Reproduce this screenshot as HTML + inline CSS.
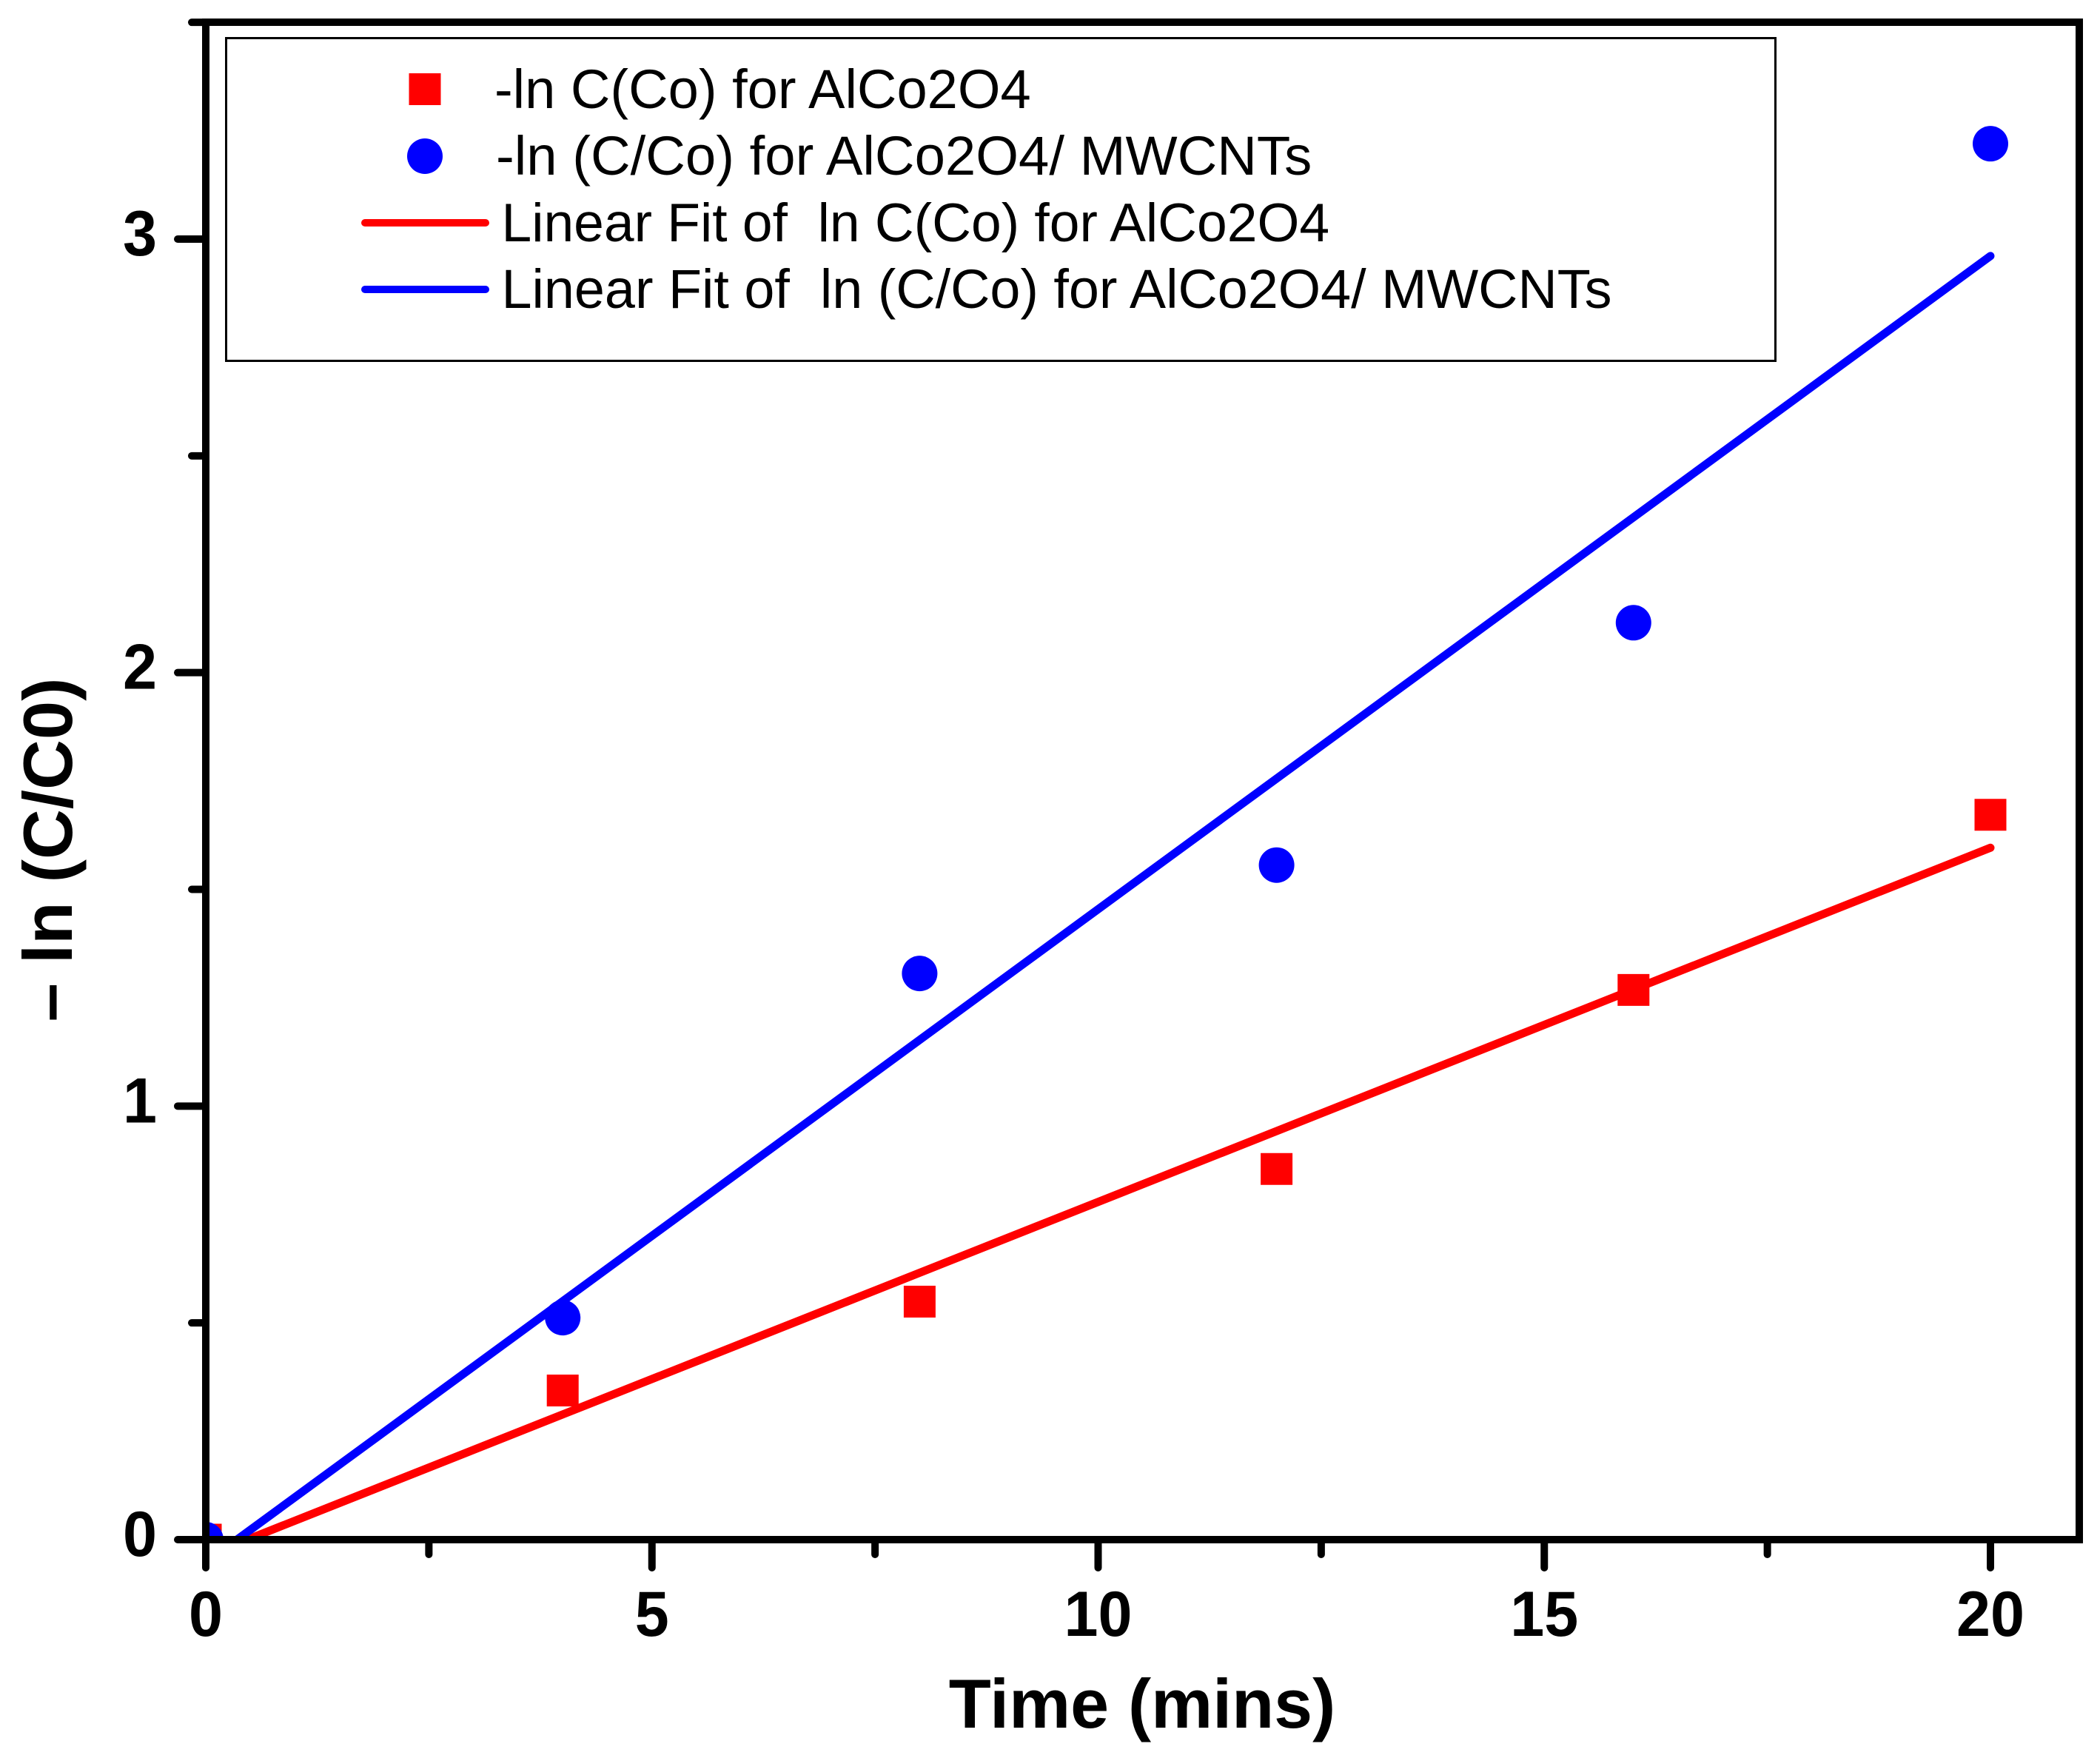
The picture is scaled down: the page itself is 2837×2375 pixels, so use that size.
<!DOCTYPE html>
<html lang="en">
<head>
<meta charset="utf-8">
<title>Kinetic fit chart</title>
<style>
html,body{margin:0;padding:0;background:#fff;width:2837px;height:2375px;overflow:hidden}
svg{display:block}
text{font-family:"Liberation Sans",Arial,sans-serif;fill:#000;white-space:pre}
.tick-label{font-size:86px;font-weight:bold}
.axis-title{font-size:94px;font-weight:bold}
</style>
</head>
<body>
<svg id="chart" xmlns="http://www.w3.org/2000/svg" width="2837" height="2375" viewBox="0 0 2837 2375">
  <defs>
    <clipPath id="plot-clip"><rect x="278" y="30" width="2531" height="2050"/></clipPath>
  </defs>
  <rect x="0" y="0" width="2837" height="2375" fill="#fff"/>
  <g id="series" clip-path="url(#plot-clip)"></g>
  <g id="axes"></g>
  <g>
    <rect x="305.5" y="51.5" width="2093" height="436" fill="none" stroke="#000" stroke-width="3"/>
    <rect x="552.5" y="99" width="43" height="43" fill="#ff0000"/>
    <text x="668" y="146" font-size="74.1">-ln C(Co) for AlCo2O4</text>
    <circle cx="574" cy="211" r="24" fill="#0000ff"/>
    <text x="670" y="236" font-size="74.3">-ln (C/Co) for AlCo2O4/ MWCNTs</text>
    <line x1="493" y1="301" x2="656" y2="301" stroke="#ff0000" stroke-width="10" stroke-linecap="round"/>
    <text x="677.5" y="326" font-size="73.2">Linear Fit of  ln C(Co) for AlCo2O4</text>
    <line x1="493" y1="391" x2="656" y2="391" stroke="#0000ff" stroke-width="10" stroke-linecap="round"/>
    <text x="677.5" y="416" font-size="73.75">Linear Fit of  ln (C/Co) for AlCo2O4/ MWCNTs</text>
  </g>
  <text class="axis-title" x="1543" y="2334" text-anchor="middle" style="font-size:93.4px">Time (mins)</text>
  <text class="axis-title" transform="translate(97 1148) rotate(-90)" text-anchor="middle">– ln (C/C0)</text>
</svg>
<script>
var timeValues = [0, 4, 8, 12, 16, 20];
var redValues = [0, 0.344, 0.549, 0.855, 1.268, 1.672];
var blueValues = [0, 0.512, 1.306, 1.556, 2.115, 3.22];
var redFitX = [0.465, 20];
var redFitY = [0, 1.596];
var blueFitX = [0.35, 20];
var blueFitY = [0, 2.961];
var xMajorTicks = [0, 5, 10, 15, 20];
var xMinorTicks = [2.5, 7.5, 12.5, 17.5];
var yMajorTicks = [0, 1, 2, 3];
var yMinorTicks = [0.5, 1.5, 2.5, 3.5];

var NS = 'http://www.w3.org/2000/svg';
function xScale(v) { return 278 + v * 120.55; }
function yScale(v) { return 2080 - v * 585.67; }
function make(parent, tag, props) {
  var el = document.createElementNS(NS, tag);
  for (var k in props) { el.setAttribute(k, props[k]); }
  parent.appendChild(el);
  return el;
}
var series = document.getElementById('series');
var axes = document.getElementById('axes');

redValues.forEach(function (v, i) {
  var el = make(series, 'rect', {
    x: xScale(timeValues[i]) - 21.5, y: yScale(v) - 21.5,
    width: 43, height: 43, fill: '#ff0000'
  });
  
  
});
blueValues.forEach(function (v, i) {
  var el = make(series, 'circle', {
    cx: xScale(timeValues[i]), cy: yScale(v), r: 24, fill: '#0000ff'
  });
  
  
});
var redFit = make(series, 'line', {
  x1: xScale(redFitX[0]), y1: yScale(redFitY[0]),
  x2: xScale(redFitX[1]), y2: yScale(redFitY[1]),
  stroke: '#ff0000', 'stroke-width': 11, 'stroke-linecap': 'round'
});


var blueFit = make(series, 'line', {
  x1: xScale(blueFitX[0]), y1: yScale(blueFitY[0]),
  x2: xScale(blueFitX[1]), y2: yScale(blueFitY[1]),
  stroke: '#0000ff', 'stroke-width': 11, 'stroke-linecap': 'round'
});



var frame = make(axes, 'rect', {
  x: 278, y: 30, width: 2531, height: 2050,
  fill: 'none', stroke: '#000', 'stroke-width': 10
});



function xTick(v, end) {
  var el = make(axes, 'line', {
    x1: xScale(v), y1: 2080, x2: xScale(v), y2: end,
    stroke: '#000', 'stroke-width': 10, 'stroke-linecap': 'round'
  });
  
  
}
function yTick(v, end) {
  var el = make(axes, 'line', {
    x1: 278, y1: yScale(v), x2: end, y2: yScale(v),
    stroke: '#000', 'stroke-width': 10, 'stroke-linecap': 'round'
  });
  
  
}
xMajorTicks.forEach(function (v) {
  xTick(v, 2118);
  var t = make(axes, 'text', {
    x: xScale(v), y: 2210, 'text-anchor': 'middle', 'class': 'tick-label',
    textLength: String(v).length * 46, lengthAdjust: 'spacingAndGlyphs'
  });
  t.textContent = String(v);
  
  
});
xMinorTicks.forEach(function (v) { xTick(v, 2100); });
yMajorTicks.forEach(function (v) {
  yTick(v, 240);
  var t = make(axes, 'text', {
    x: 212, y: yScale(v) + 22, 'text-anchor': 'end', 'class': 'tick-label',
    textLength: String(v).length * 46, lengthAdjust: 'spacingAndGlyphs'
  });
  t.textContent = String(v);
  
  
});
yMinorTicks.forEach(function (v) { yTick(v, 259); });
</script>
</body>
</html>
